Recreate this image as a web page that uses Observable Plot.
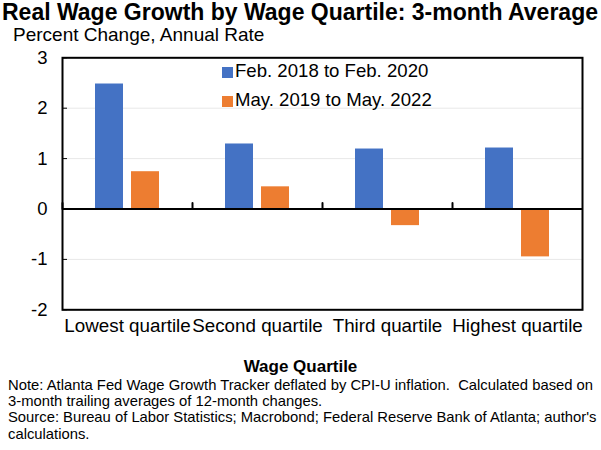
<!DOCTYPE html>
<html><head><meta charset="utf-8">
<script src="https://cdn.jsdelivr.net/npm/d3@7"></script>
<script src="https://cdn.jsdelivr.net/npm/@observablehq/plot@0.6"></script>
<style>
body{margin:0;background:#fff;}
#c{position:relative;width:601px;height:450px;font-family:"Liberation Sans",Arial,sans-serif;color:#000;overflow:hidden;background:#fff}
.a{position:absolute;white-space:nowrap;line-height:1;z-index:2}
#plot{position:absolute;left:0;top:46px;z-index:1}
.sw{position:absolute;width:11px;height:11px;z-index:2}
</style></head><body><div id="c">
<div class="a" id="title" style="left:2px;top:1px;font-size:23px;font-weight:bold">Real Wage Growth by Wage Quartile: 3-month Average</div>
<div class="a" id="sub" style="left:13px;top:24.5px;font-size:19px">Percent Change, Annual Rate</div>
<div id="plot"></div>
<div id="legend"></div>
<div class="a" id="xlab" style="left:0;width:601px;text-align:center;top:358px;font-size:17px;font-weight:bold">Wage Quartile</div>
<div class="a" id="notes" style="left:8px;top:377px;font-size:14.8px;line-height:16.2px"></div>
</div>
<script>
const quartiles = ["Lowest quartile", "Second quartile", "Third quartile", "Highest quartile"];
const seriesNames = ["Feb. 2018 to Feb. 2020", "May. 2019 to May. 2022"];
const preValues = [2.48, 1.29, 1.19, 1.21];
const postValues = [0.74, 0.44, -0.33, -0.95];
const yTicks = [-2, -1, 0, 1, 2, 3];
const colors = ["#4472C4", "#ED7D31"];
const noteLines = [
  "Note: Atlanta Fed Wage Growth Tracker deflated by CPI-U inflation.  Calculated based on",
  "3-month trailing averages of 12-month changes.",
  "Source: Bureau of Labor Statistics; Macrobond; Federal Reserve Bank of Atlanta; author's",
  "calculations."
];

const data = quartiles.flatMap((q, i) => [
  {q, s: seriesNames[0], v: preValues[i]},
  {q, s: seriesNames[1], v: postValues[i]}
]);
const tickUp = {draw(ctx, l) { ctx.moveTo(0, 0); ctx.lineTo(0, -l); }};

const chart = Plot.plot({
  width: 601, height: 300,
  marginTop: 11.3, marginBottom: 36.7, marginLeft: 61, marginRight: 18,
  style: {fontFamily: "Liberation Sans, Arial, sans-serif", fontSize: "18.5px", color: "#000", background: "#fff"},
  fx: {domain: quartiles, padding: 0, label: null},
  x: {domain: seriesNames, paddingInner: 0.22, paddingOuter: 0.9, axis: null},
  y: {domain: [-2, 3], ticks: yTicks, label: null},
  color: {domain: seriesNames, range: colors},
  marks: [
    Plot.gridY(yTicks, {stroke: "#e8e8e8", strokeOpacity: 1}),
    Plot.barY(data, {fx: "q", x: "s", y: "v", fill: "s"}),
    Plot.ruleY([0], {stroke: "#000", strokeWidth: 2}),
    Plot.vector([0], {y: d => d, frameAnchor: "left", length: 6, rotate: 0, anchor: "start", shape: tickUp, stroke: "#000", strokeWidth: 2}),
    Plot.axisY(yTicks, {tickSize: 0, tickPadding: 15, fontSize: 18.5, label: null, tickFormat: d => String(d)}),
    Plot.axisY(yTicks, {tickSize: -5, tickFormat: () => "", label: null, stroke: "#000"}),
    Plot.axisFx({anchor: "bottom", tickSize: 0, tickPadding: 9, fontSize: 18.8, label: null}),
    Plot.frame({facet: "super", stroke: "#000", strokeWidth: 2})
  ]
});
document.getElementById("plot").appendChild(chart);

const legend = document.getElementById("legend");
const rowTops = [62, 91];
seriesNames.forEach((name, i) => {
  const sw = document.createElement("div");
  sw.className = "sw";
  sw.style.left = "222px";
  sw.style.top = (rowTops[i] + 5) + "px";
  sw.style.background = colors[i];
  legend.appendChild(sw);
  const t = document.createElement("div");
  t.className = "a";
  t.style.left = "235px";
  t.style.top = rowTops[i] + "px";
  t.style.fontSize = "18.6px";
  t.textContent = name;
  legend.appendChild(t);
});
document.getElementById("notes").innerHTML = noteLines.map(s => s.replace(/  /g, " &nbsp;")).join("<br>");
</script>
</body></html>
